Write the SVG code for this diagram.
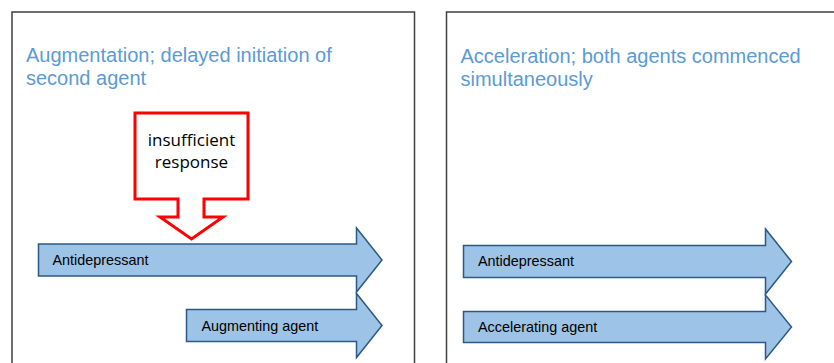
<svg xmlns="http://www.w3.org/2000/svg" width="834" height="363" viewBox="0 0 834 363">
  <style>
    .panel { fill: #ffffff; stroke: #404040; stroke-width: 1.5; }
    .title { font-family: "Liberation Sans", Arial, sans-serif; font-size: 20px; fill: #5B9BD5; }
    .arrow { fill: #9DC3E6; stroke: #2C5A86; stroke-width: 1.5; stroke-linejoin: miter; }
    .label { font-family: "Liberation Sans", Arial, sans-serif; font-size: 14.4px; fill: #000000; }
    .callout { fill: #ffffff; stroke: #FF0000; stroke-width: 3; stroke-linejoin: miter; }
    .callout-text { font-family: "Open Sans", "Noto Sans", sans-serif; font-size: 17px; fill: #000000; text-anchor: middle; }
  </style>
  <rect width="834" height="363" fill="#ffffff"/>

  <g id="panel-augmentation">
    <rect class="panel" x="12" y="12" width="402.5" height="370"/>
    <text class="title" x="26" y="62">Augmentation; delayed initiation of</text>
    <text class="title" x="26" y="85">second agent</text>
  </g>

  <g id="panel-acceleration">
    <rect class="panel" x="446.5" y="12" width="400" height="370"/>
    <text class="title" x="460.5" y="63">Acceleration; both agents commenced</text>
    <text class="title" x="460.5" y="86">simultaneously</text>
  </g>

  <g id="callout-insufficient-response">
    <path class="callout" d="M135,113 H248 V199 H204 V217 H223 L191.5,239 L160,217 H178 V199 H135 Z"/>
    <text class="callout-text" x="191.5" y="146">insufficient</text>
    <text class="callout-text" x="191.5" y="167.5">response</text>
  </g>

  <g id="arrow-antidepressant-left">
    <path class="arrow" d="M38.5,244 H356.5 V228 L382,260 L356.5,292 V276 H38.5 Z"/>
    <text class="label" x="52.5" y="265">Antidepressant</text>
  </g>

  <g id="arrow-augmenting-agent">
    <path class="arrow" d="M186.5,309.5 H356.5 V293.5 L382,325.5 L356.5,357.5 V341.5 H186.5 Z"/>
    <text class="label" x="201.5" y="330.5">Augmenting agent</text>
  </g>

  <g id="arrow-antidepressant-right">
    <path class="arrow" d="M463.5,245.5 H765.5 V229 L791.5,261.5 L765.5,294 V277.5 H463.5 Z"/>
    <text class="label" x="478" y="266">Antidepressant</text>
  </g>

  <g id="arrow-accelerating-agent">
    <path class="arrow" d="M463.5,311.5 H765.5 V295 L791.5,327 L765.5,359 V342.5 H463.5 Z"/>
    <text class="label" x="478" y="332">Accelerating agent</text>
  </g>

  <g id="connectors"/>
</svg>
